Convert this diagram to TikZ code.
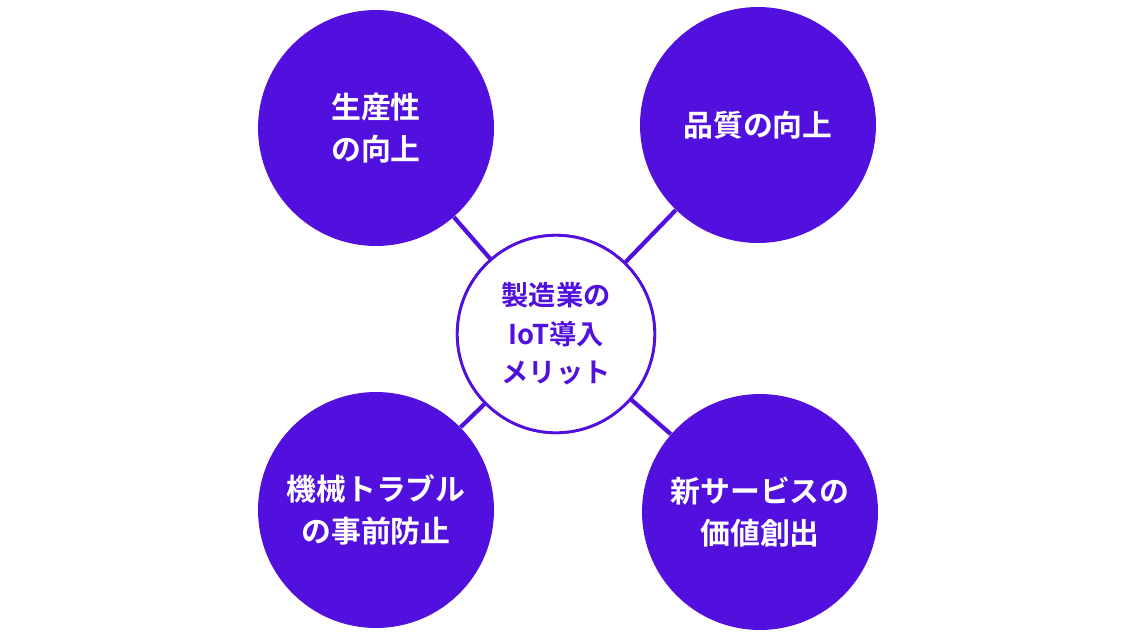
\documentclass[tikz,border=0pt]{standalone}
\usepackage{fontspec}
\newfontfamily\cjk{Noto Sans CJK JP Bold}
\definecolor{merit}{RGB}{82,16,222}
\tikzset{
  x=0.02cm, y=-0.02cm,
  outer/.style = {circle, fill=merit, minimum size=4.72cm, inner sep=0pt,
                  align=center, text=white, font=\cjk\fontsize{17}{24}\selectfont},
  hub/.style   = {circle, draw=merit, line width=1.6pt, fill=white, minimum size=3.95cm,
                  inner sep=0pt, align=center, text=merit, font=\cjk\fontsize{15.5}{22}\selectfont},
  link/.style  = {draw=merit, line width=2.4pt}
}
\begin{document}
\begin{tikzpicture}
\useasboundingbox (0,0) rectangle (1126,633);
\node [outer] (prod) at (376,128) {生産性\\の向上};
\node [outer] (qual) at (758,125) {品質の向上};
\node [outer] (fail) at (376,510) {機械トラブル\\の事前防止};
\node [outer] (serv) at (760,512) {新サービスの\\価値創出};
\node [hub] (iot) at (556,334) {製造業の\\IoT導入\\メリット};
\foreach \n in {prod,qual,fail,serv}
  \draw [link] (iot) -- (\n);
\node [hub] at (iot) {製造業の\\IoT導入\\メリット};
\end{tikzpicture}
\end{document}
